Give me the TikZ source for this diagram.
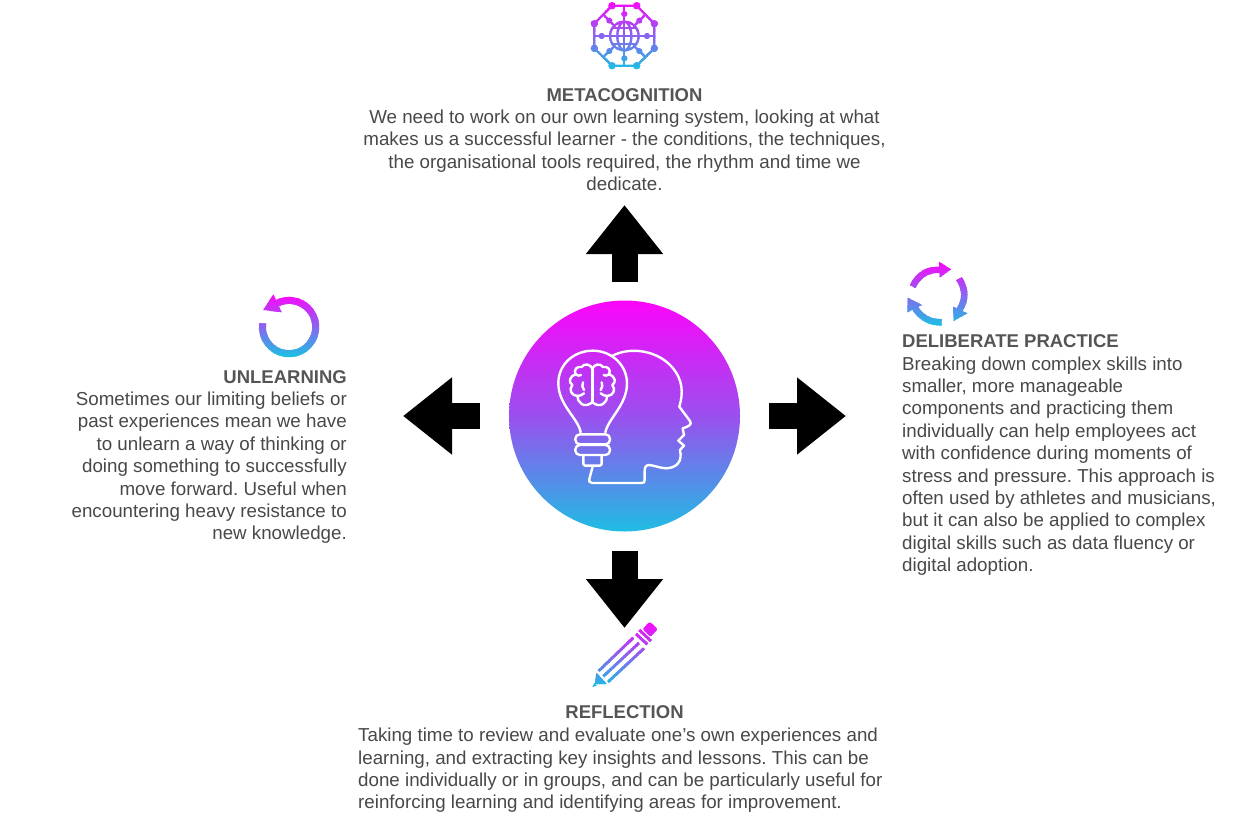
\documentclass[tikz,border=0pt]{standalone}
\usepackage{fontspec}
\setmainfont{Liberation Sans}
\usetikzlibrary{arrows.meta}
\frenchspacing
\definecolor{mag}{HTML}{FB05FB}
\definecolor{pur}{HTML}{9A50EE}
\definecolor{cyn}{HTML}{1FBDE3}
\definecolor{headc}{HTML}{555555}
\definecolor{bodyc}{HTML}{484848}
\newcommand\hd[1]{{\fontsize{18.5}{22.4}\selectfont\bfseries\color{headc}#1}}
\newcommand\gradicon[3]{%
  \foreach \gi in {0,...,29}{%
    \pgfmathsetmacro\gp{100-100*\gi/29}%
    \pgfmathsetmacro\ga{#1+(#2-#1)*\gi/30}%
    \pgfmathsetmacro\gb{#1+(#2-#1)*(\gi+1)/30+0.5}%
    \colorlet{gcol}{mag!\gp!cyn}%
    \begin{scope}
      \clip (0,\ga) rectangle (1250,\gb);
      \begin{scope}[color=gcol]
        #3
      \end{scope}
    \end{scope}
  }%
}
\tikzset{
  blurb/.style={inner sep=0pt,text=bodyc,font=\fontsize{18.75}{22.4}\selectfont},
  bigarrow/.style={line width=26pt,-{Triangle[length=49pt,width=74pt]},black},
  hubdisc/.style={circle,minimum size=231pt,inner sep=0pt,top color=mag,bottom color=cyn,middle color=pur,draw=none},
  wl/.style={white,line width=2.4pt,line cap=round,line join=round},
  ic/.style={line width=2.2pt,line cap=round,line join=round},
}
\begin{document}
\begin{tikzpicture}[x=1pt,y=-1pt]
\useasboundingbox (0,0) rectangle (1250,833);
% hub
\node[hubdisc] (hub) at (624.5,416) {};
% arrows
\coordinate (upS) at (624.5,282); \coordinate (upE) at (624.5,205);
\coordinate (dnS) at (624.5,551); \coordinate (dnE) at (624.5,628);
\coordinate (rtS) at (769,416); \coordinate (rtE) at (846,416);
\coordinate (ltS) at (480,416); \coordinate (ltE) at (403,416);
\draw[bigarrow] (upS) -- (upE);
\draw[bigarrow] (dnS) -- (dnE);
\draw[bigarrow] (rtS) -- (rtE);
\draw[bigarrow] (ltS) -- (ltE);
% head and bulb
\begin{scope}[shift={(500,295)},scale=0.3333]
 \draw[wl] (338,182) .. controls (390,155) and (470,165) .. (515,215) .. controls (550,255) and (550,295) .. (538,335)
   -- (570,378) .. controls (576,388) and (570,393) .. (548,400) -- (552,420) -- (535,437) -- (552,452) -- (540,465)
   .. controls (548,500) and (530,518) .. (500,520) .. controls (480,520) and (460,510) .. (445,510)
   .. controls (435,512) and (434,520) .. (434,530) -- (434,555) .. controls (434,562) and (432,564) .. (425,564)
   -- (277,564) .. controls (268,564) and (266,558) .. (268,552) -- (278,515);
 \draw[wl] (242,412) .. controls (235,370) and (175,330) .. (175,265) .. controls (175,205) and (225,167) .. (278,167)
   .. controls (335,167) and (381,210) .. (381,265) .. controls (381,330) and (325,370) .. (316,412);
 \draw[wl,rounded corners=4.5pt] (226,418) rectangle (330,448);
 \draw[wl,rounded corners=4.5pt] (226,450) rectangle (330,480);
 \draw[wl,rounded corners=2pt] (250,482) -- (250,512) -- (305,512) -- (305,482);
 % brain
 \draw[wl] (277,222) -- (277,320);
 \foreach \m in {1,-1}{
  \begin{scope}[shift={(277,0)},xscale=\m]
   \draw[wl] (0,222) .. controls (-3,208) and (-25,203) .. (-32,216)
     .. controls (-45,212) and (-58,225) .. (-50,238)
     .. controls (-70,245) and (-72,262) .. (-60,270)
     .. controls (-72,285) and (-62,302) .. (-45,303)
     .. controls (-45,322) and (-25,342) .. (0,322);
   \draw[wl] (-50,238) .. controls (-44,243) and (-38,243) .. (-34,240);
   \draw[wl] (-28,262) .. controls (-32,270) and (-30,278) .. (-25,285);
   \draw[wl] (-45,303) .. controls (-38,303) and (-30,300) .. (-25,295);
  \end{scope}
 }
\end{scope}
% network icon
\gradicon{1}{70}{
 \begin{scope}[shift={(570,0)},scale=0.3333]
  \foreach \p in {(126,17),(200,17),(73,71),(253,71),(73,145),(253,145),(126,197),(200,197)} \fill \p circle[radius=11];
  \draw[ic] (126,17) -- (200,17) -- (253,71) -- (253,145) -- (200,197) -- (126,197) -- (73,145) -- (73,71) -- cycle;
  \draw[ic] (163,17) -- (163,62) (163,197) -- (163,154) (73,108) -- (118,108) (253,108) -- (208,108);
  \draw[ic] (100,44) -- (134,78) (226,44) -- (192,78) (100,171) -- (134,138) (226,171) -- (192,138);
  \foreach \p in {(163,42),(163,175),(95,108),(231,108),(118,62),(208,62),(118,153),(208,153)} \fill \p circle[radius=9];
  \draw[ic] (163,108) circle[radius=43] (163,108) ellipse[x radius=21,y radius=43];
  \draw[ic] (163,65) -- (163,151) (120,108) -- (206,108) (127,85) -- (199,85) (127,131) -- (199,131);
 \end{scope}
}
% refresh icon
\gradicon{261}{327}{
 \begin{scope}[shift={(890,250)},scale=0.3333]
  \draw[line width=6.5pt] (68,110) .. controls (85,72) and (118,56) .. (155,60);
  \fill (147,35) -- (183,58) -- (149,83) -- cycle;
  \draw[line width=6.5pt] (207,86) .. controls (228,118) and (228,150) .. (208,180);
  \fill (232,190) -- (191,213) -- (189,170) -- cycle;
  \draw[line width=6.5pt] (155,217) .. controls (118,218) and (88,200) .. (72,168);
  \fill (52,187) -- (53,143) -- (96,165) -- cycle;
 \end{scope}
}
% unlearning icon
\gradicon{294}{358}{
 \begin{scope}[shift={(245,285)},scale=0.3333]
  \draw[line width=7pt] (53,115) arc[start angle=188,end angle=-117,radius=80];
  \fill (85,28) -- (55,75) -- (110,82) -- cycle;
 \end{scope}
}
% pencil icon
\gradicon{622}{688}{
 \begin{scope}[shift={(580,615)},scale=0.3333]
  \fill[rounded corners=2pt] (188,42) -- (209,20) -- (233,42) -- (212,66) -- cycle;
  \draw[line width=2.8pt] (168,57) -- (202,88) (178,45) -- (213,78);
  \draw[line width=2.8pt] (160,68) -- (56,168) (177,84) -- (70,184) (192,100) -- (84,201);
  \draw[line width=1pt,line join=round,fill] (50,176) -- (78,206) -- (46,206) -- cycle;
  \fill (38,216) -- (43,204) -- (50,211) -- cycle;
 \end{scope}
}
% texts
\node[blurb,align=center,anchor=north] (meta) at (624.5,88) {\hd{METACOGNITION}\\We need to work on our own learning system, looking at what\\makes us a successful learner - the conditions, the techniques,\\the organisational tools required, the rhythm and time we\\dedicate.};
\node[blurb,align=left,anchor=north west] (delib) at (902,334.6) {\hd{DELIBERATE PRACTICE}\\Breaking down complex skills into\\smaller, more manageable\\components and practicing them\\individually can help employees act\\with confidence during moments of\\stress and pressure. This approach is\\often used by athletes and musicians,\\but it can also be applied to complex\\digital skills such as data fluency or\\digital adoption.};
\node[blurb,align=right,anchor=north east] (unl) at (347,370) {\hd{UNLEARNING}\\Sometimes our limiting beliefs or\\past experiences mean we have\\to unlearn a way of thinking or\\doing something to successfully\\move forward. Useful when\\encountering heavy resistance to\\new knowledge.};
\node[blurb,align=center,anchor=north] (refl) at (624.5,705) {\hd{REFLECTION}};
\node[blurb,align=left,anchor=north west] (refltxt) at (358,728) {Taking time to review and evaluate one's own experiences and\\learning, and extracting key insights and lessons. This can be\\done individually or in groups, and can be particularly useful for\\reinforcing learning and identifying areas for improvement.};
\end{tikzpicture}
\end{document}
